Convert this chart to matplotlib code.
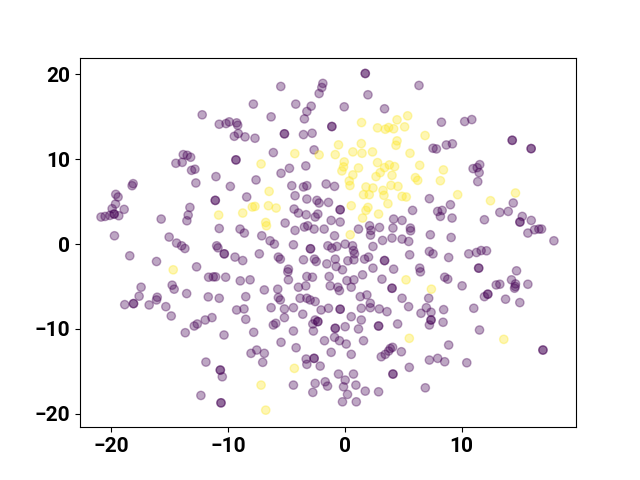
import numpy as np
import matplotlib
matplotlib.use("Agg")
import matplotlib.pyplot as plt

plt.rcParams['font.family'] = ['Roboto', 'DejaVu Sans']

# class 0 (purple) points
purple_x = [
 -12.2,-10.74,-10.16,-9.88,-9.25,-9.16,-9.11,-9.45,-8.53,-9.31,-9.31,-13.82,-13.48,-13.19,-14.45,-13.91,-13.11,-12.82,-11.02,
 1.76,1.76,-1.87,-1.96,-2.19,-5.47,1.99,-7.82,-4.19,-2.87,-3.24,-3.45,-0.04,3.41,-6.3,-1.1,-1.1,-5.16,-5.16,-3.53,-2.79,-7.68,-2.62,-6.11,-7.59,-3.33,-4.73,-5.45,
 6.36,8.28,10.27,10.88,14.34,14.34,15.96,15.96,7.56,7.85,8.7,9.22,10.99,11.34,11.56,11.51,11.39,
 -18.11,-18.2,-12.74,-9.79,-19.6,-19.4,-19.62,-19.91,-18.88,-19.74,-19.74,-19.34,-20.11,-20.51,-20.86,-19.71,-15.71,-13.25,-13.4,-13.51,-11.08,-11.08,-8.39,-10.74,-8.96,-8.59,-15.03,-14.39,-13.96,-13.68,-10.96,-10.85,-10.31,-10.31,-9.39,-8.73,-18.4,-16.11,-12.68,-11.65,-11.25,-11.05,-10.19,-8.94,-17.43,-17.6,-14.77,-14.6,-13.53,-11.68,-10.74,-8.47,-18.83,-18.08,-18.08,-16.74,-16.05,-16.11,-15.31,
 -14.85,-13.65,-12.88,-12.62,-11.94,-11.36,-10.33,-9.25,-8.62,-8.47,-11.88,-10.65,-10.65,-10.48,-12.31,-10.59,-10.59,
 -4.53,-3.53,-3.24,-1.59,-0.87,-4.25,-3.24,-2.38,-2.19,-1.39,-4.33,-3.96,-3.3,-2.3,-2.53,-0.39,-0.39,-1.16,-0.39,-5.1,-4.25,-3.45,-3.16,-2.62,-1.76,-0.87,1.18,2.13,2.25,2.21,2.98,4.13,5.62,5.64,4.91,4.19,5.81,-7.1,-6.39,-6.02,-4.39,-2.93,-2.93,-1.44,-1.1,-0.67,0.04,0.67,0.75,0.84,2.42,-7.31,-5.68,-5.51,-4.82,-4.87,-3.53,-2.59,-2.44,-1.53,-0.81,-0.73,-0.19,0.27,0.79,1.7,2.04,2.42,3.41,3.41,4.19,5.56,4.91,5.48,4.05,3.24,-8.1,-6.88,-5.73,-5.68,-5.51,-4.82,-3.96,-3.24,-3.33,-2.76,-3.82,-3.24,-2.96,-2.53,-1.33,-1.24,-0.58,-0.45,0.19,0.79,0.56,1.33,1.9,2.19,1.53,3.19,4.05,4.05,4.91,
 7.25,9.05,7.96,8.34,8.19,9.19,11.96,13.28,14.0,14.43,15.2,15.0,15.0,15.97,15.68,16.25,16.62,16.85,17.91,7.33,9.11,7.25,7.56,8.9,10.62,11.28,11.68,12.14,11.47,11.47,14.71,6.42,6.48,8.56,8.82,10.05,14.28,14.62,14.54,14.6,15.68,12.97,13.28,11.96,12.25,12.25,13.77,14.99,7.19,
 -6.3,-5.16,-4.39,-2.02,-1.39,-0.39,-0.39,1.42,2.19,2.96,3.62,5.47,-5.16,-3.59,-2.53,-2.3,-2.3,-2.73,-2.68,-5.9,-6.11,-7.79,-4.39,-0.81,-0.81,0.04,0.56,1.42,1.18,2.9,2.9,4.53,5.53,-0.87,-0.45,0.13,-1.73,1.61,-1.16,0.56,-5.45,-4.16,-7.53,-8.02,-6.88,-7.02,-3.3,-3.24,-2.62,-2.62,-2.1,-4.39,-2.53,-1.67,-1.47,-2.73,-0.53,0.04,0.75,-0.1,0.24,0.96,1.76,2.9,-0.19,0.99,3.13,3.47,3.76,4.1,4.85,4.13,4.13,3.9,
 6.99,6.53,7.39,8.47,11.05,7.39,7.39,7.25,8.42,11.54,8.9,16.97,16.97,7.25,7.96,8.56,10.45,6.9,
]
purple_y = [
 15.23,14.12,14.2,14.4,14.28,14.0,13.02,12.7,12.63,9.92,9.92,10.54,10.46,10.23,9.52,9.63,8.69,8.82,7.95,
 20.1,20.1,18.93,18.45,17.74,18.57,17.59,16.49,16.49,16.25,15.62,14.75,16.17,15.94,14.99,13.85,13.85,12.99,12.99,12.9,13.06,12.47,11.1,10.78,7.56,9.21,8.93,8.34,
 18.69,14.36,14.44,14.67,12.23,12.23,11.25,11.25,11.29,11.21,11.68,11.81,8.89,9.01,9.36,8.42,7.36,
 7.12,6.88,7.2,6.8,5.86,5.55,4.72,4.17,4.09,3.54,3.54,3.34,3.38,3.26,3.19,0.98,2.95,4.32,3.42,2.75,5.15,5.15,5.55,1.84,1.77,1.3,0.83,0.12,-0.2,-0.52,-0.2,-0.44,-1.15,-1.15,-1.53,-1.94,-1.38,-2.05,-2.68,-3.9,-3.86,-3.86,-3.9,-4.33,-5.08,-6.14,-4.84,-5.31,-5.83,-6.22,-6.38,-6.19,-7.13,-7.01,-7.01,-7.17,-6.26,-6.58,-7.37,
 -8.47,-10.44,-9.65,-9.41,-8.94,-8.66,-10.71,-7.76,-7.64,-8.86,-13.9,-14.84,-14.84,-15.63,-17.83,-18.7,-18.7,
 6.88,6.73,6.88,7.08,6.8,5.7,5.31,5.15,4.84,4.91,4.13,3.66,3.46,3.54,3.19,4.05,4.05,2.79,2.6,2.48,1.61,2.01,2.16,1.77,1.77,0.98,1.77,2.16,1.61,1.06,1.96,1.89,1.89,1.57,2.79,2.95,3.97,0.98,0.39,0.0,-0.08,-0.55,-0.55,-0.2,-0.47,-0.28,0.0,-0.2,-0.76,-1.15,-0.28,-1.15,-1.53,-1.77,-2.95,-3.27,-1.85,-1.77,-2.05,-2.33,-1.77,-2.64,-3.03,-1.97,-1.85,-1.77,-1.53,-2.83,-1.94,-1.94,-2.95,-1.26,0.59,0.31,0.71,0.43,-4.21,-5.4,-5.31,-6.3,-6.58,-4.21,-5.08,-3.82,-4.92,-3.9,-6.38,-6.38,-6.58,-6.77,-3.82,-4.92,-5.08,-5.48,-4.3,-4.21,-5.08,-6.19,-5.99,-6.97,-3.62,-4.13,-5.2,-5.2,-6.38,
 5.35,4.64,3.85,3.97,3.26,3.07,2.87,3.73,3.85,4.84,3.26,2.6,2.6,2.79,1.3,1.69,1.77,1.77,0.39,1.1,0.78,-0.87,-1.15,-1.58,-1.15,-0.99,-0.76,-0.79,-2.83,-2.83,-3.15,-2.83,-3.27,-3.9,-4.13,-4.92,-4.21,-4.69,-5.2,-5.0,-4.73,-4.81,-4.73,-6.19,-5.9,-5.9,-6.49,-6.89,-6.38,
 -7.49,-7.64,-7.49,-7.76,-7.56,-7.67,-7.67,-7.56,-7.49,-7.64,-7.96,-7.37,-8.66,-8.26,-8.94,-9.13,-9.13,-9.41,-10.24,-9.33,-9.53,-10.39,-10.24,-9.92,-9.92,-9.73,-8.55,-8.94,-10.0,-9.65,-9.65,-9.41,-14.52,-10.98,-11.38,-11.77,-11.38,-11.38,-12.75,-12.99,-11.57,-12.21,-12.48,-12.87,-12.87,-13.93,-13.54,-14.17,-13.46,-13.46,-14.37,-16.61,-16.41,-16.22,-16.73,-17.47,-15.31,-16.02,-15.31,-16.81,-17.71,-16.61,-17.32,-17.4,-18.58,-18.58,-13.27,-12.99,-12.6,-12.16,-12.68,-15.31,-15.31,-12.3,
 -7.49,-8.15,-8.03,-7.72,-7.56,-8.94,-8.94,-9.53,-9.21,-10.12,-11.89,-12.48,-12.48,-13.66,-13.46,-13.86,-13.98,-16.93,
]

# class 1 (yellow) points
yellow_x = [
 1.44,2.81,3.47,3.76,4.19,4.48,5.39,5.13,4.48,4.39,5.59,-0.53,1.42,-4.27,-2.19,-0.81,0.7,1.48,2.38,-7.16,-0.04,-0.1,-0.24,1.18,2.81,3.41,3.82,4.27,4.05,3.04,2.68,0.7,0.39,
 6.88,6.42,8.45,6.05,6.25,8.19,
 -10.79,-8.73,-14.68,
 0.45,1.82,2.42,1.61,2.1,3.96,4.56,3.28,3.36,4.91,5.27,3.7,2.9,1.53,1.82,1.99,0.56,0.47,5.25,-6.47,-6.53,-5.87,-6.76,-6.7,-7.68,-7.91,
 7.42,9.67,12.48,14.62,
 5.53,-4.31,-7.16,-6.76,
 13.62,
]
yellow_y = [
 14.32,13.69,13.53,13.73,13.58,14.64,15.11,13.81,12.16,11.64,10.7,11.69,11.84,10.66,10.51,10.54,10.86,10.7,10.86,9.44,9.68,9.09,8.62,8.97,9.6,9.01,9.33,9.13,8.1,8.42,7.95,8.15,7.44,
 12.79,9.28,8.74,7.83,7.51,7.47,
 3.42,3.66,-3.03,
 6.9,6.73,6.61,5.82,5.82,6.92,6.8,6.33,5.74,5.62,5.55,4.76,3.54,3.07,3.97,4.32,4.52,1.1,-4.21,6.21,4.52,4.25,2.55,2.16,4.44,4.37,
 -5.31,5.82,5.11,6.02,
 -11.1,-14.64,-16.61,-19.56,
 -11.22,
]

x = np.array(purple_x + yellow_x)
y = np.array(purple_y + yellow_y)
labels = np.array([0] * len(purple_x) + [1] * len(yellow_x))

fig, ax = plt.subplots(figsize=(6.4, 4.8), dpi=100)
ax.scatter(x, y, c=labels, cmap='viridis', alpha=0.35)
ax.set_xlim(-22.66, 19.8)
ax.set_ylim(-21.57, 21.97)
ax.set_xticks([-20, -10, 0, 10])
ax.set_yticks([-20, -10, 0, 10, 20])
for lab in ax.get_xticklabels() + ax.get_yticklabels():
    lab.set_fontsize(15)
    lab.set_fontweight('bold')
fig.savefig('out.png', dpi=100)
